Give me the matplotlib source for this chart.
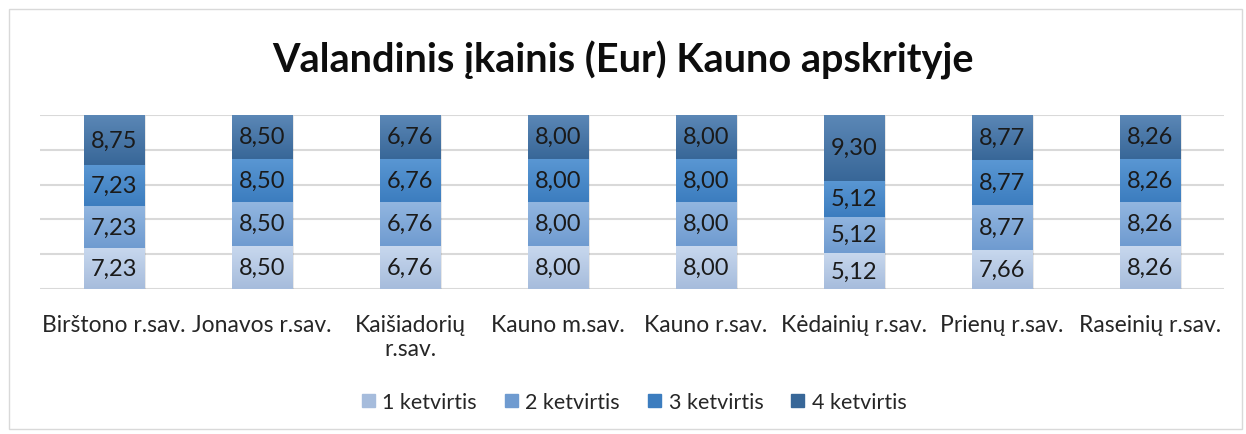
import matplotlib.pyplot as plt
import matplotlib.colors as mcolors
import numpy as np
from matplotlib.patches import Rectangle

plt.rcParams['font.family'] = ['Lato', 'DejaVu Sans']

categories = ['Birštono r.sav.', 'Jonavos r.sav.', 'Kaišiadorių\nr.sav.', 'Kauno m.sav.',
              'Kauno r.sav.', 'Kėdainių r.sav.', 'Prienų r.sav.', 'Raseinių r.sav.']
series_names = ['1 ketvirtis', '2 ketvirtis', '3 ketvirtis', '4 ketvirtis']
q1 = [7.23, 8.50, 6.76, 8.00, 8.00, 5.12, 7.66, 8.26]
q2 = [7.23, 8.50, 6.76, 8.00, 8.00, 5.12, 8.77, 8.26]
q3 = [7.23, 8.50, 6.76, 8.00, 8.00, 5.12, 8.77, 8.26]
q4 = [8.75, 8.50, 6.76, 8.00, 8.00, 9.30, 8.77, 8.26]

# (top colour, bottom colour) for each series gradient
grads = [('#c8d8ee', '#a6bcdc'), ('#92b6e0', '#6f9bd0'),
         ('#5a97d3', '#3c7dbf'), ('#5b87b6', '#386798')]

data = np.array([q1, q2, q3, q4])
totals = data.sum(axis=0)
pct = data / totals * 100

fig = plt.figure(figsize=(12.46, 4.35), dpi=100)
ax = fig.add_axes([0.0321, 0.3333, 0.9502, 0.4], zorder=2)
x = np.arange(len(categories))
width = 0.41

ax.set_xlim(-0.5, len(categories) - 0.5)
ax.set_ylim(0, 100)
for yv in [0, 20, 40, 60, 80, 100]:
    ax.axhline(yv, color='#d9d9d9', lw=1.5, zorder=0)

bottom = np.zeros(len(categories))
for i in range(4):
    rects = ax.bar(x, pct[i], width, bottom=bottom, color=grads[i][1],
                   label=series_names[i], zorder=2)
    # gradient: top row of the image = top colour
    cmap = mcolors.LinearSegmentedColormap.from_list('g%d' % i, [grads[i][0], grads[i][1]])
    for r, val in zip(rects, data[i]):
        x0, y0 = r.get_x(), r.get_y()
        w, h = r.get_width(), r.get_height()
        # soft shadow
        ax.add_patch(Rectangle((x0 + 0.014, y0 - 0.8), w, h, color='#000000',
                               alpha=0.09, lw=0, zorder=1))
        im = ax.imshow(np.linspace(0, 1, 64).reshape(-1, 1), cmap=cmap, aspect='auto',
                       extent=(x0, x0 + w, y0, y0 + h), origin='upper', zorder=2.5)
        im.set_clip_path(r)
        ax.text(x0 + w / 2, y0 + h / 2, ('%.2f' % val).replace('.', ','),
                ha='center', va='center', fontsize=17, color='#1a1a1a', zorder=3)
    bottom += pct[i]

ax.set_xlim(-0.5, len(categories) - 0.5)
ax.set_ylim(0, 100)
ax.set_xticks(x, categories)
ax.tick_params(axis='x', length=0, pad=18, labelsize=16.5, colors='#262626')
ax.set_yticks([])
for s in ax.spines.values():
    s.set_visible(False)

fig.text(0.5, 0.862, 'Valandinis įkainis (Eur) Kauno apskrityje', ha='center', va='center',
         fontsize=28.5, fontweight='bold', color='#0d0d0d')

handles = [Rectangle((0, 0), 1, 1, color=grads[i][1]) for i in range(4)]
fig.legend(handles, series_names, loc='center', bbox_to_anchor=(0.509, 0.073), ncol=4,
           frameon=False, fontsize=15.5, handlelength=0.6, handleheight=0.6,
           handletextpad=0.35, columnspacing=1.3, labelcolor='#262626')

fig.patches.append(Rectangle((0.007, 0.012), 0.99, 0.965, transform=fig.transFigure,
                             fill=False, edgecolor='#d9d9d9', lw=1))

fig.savefig('out.png', dpi=100)
